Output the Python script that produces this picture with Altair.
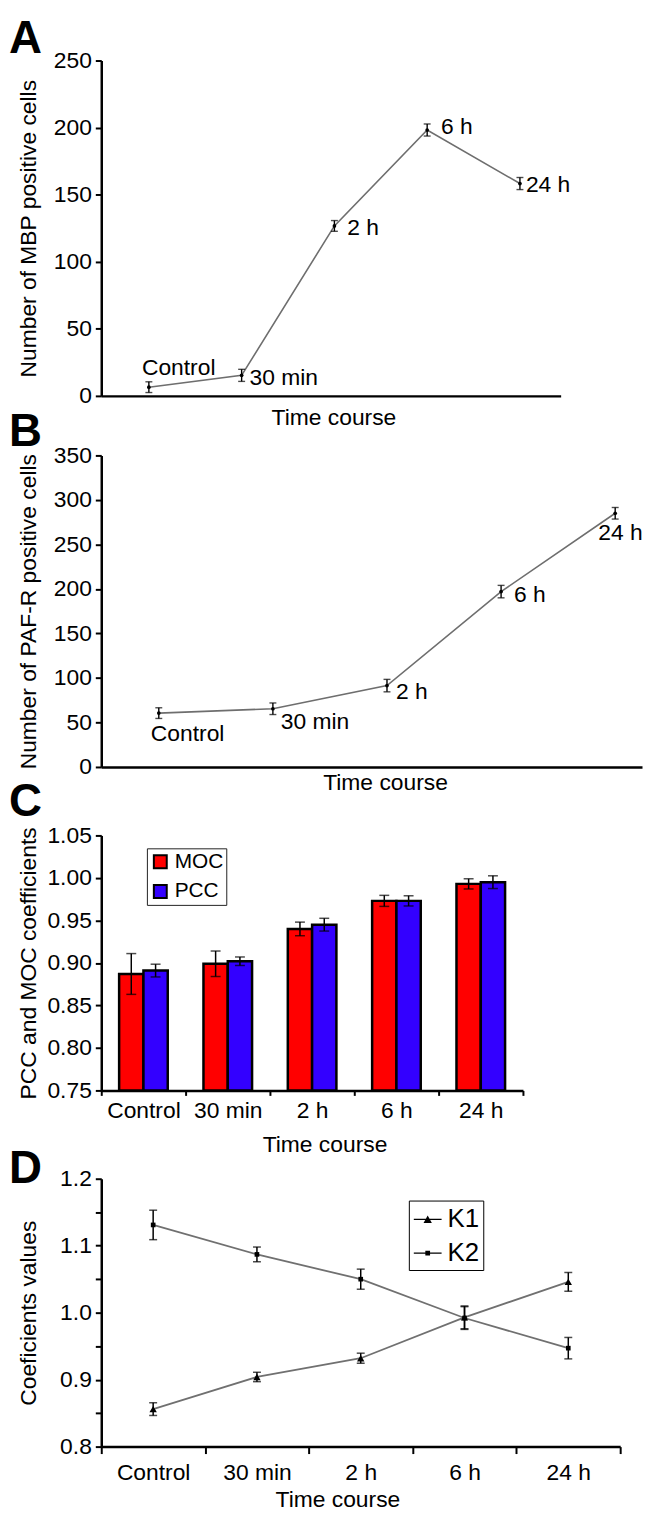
import altair as alt
import pandas as pd

# ---------------- data ----------------
CATS = ["Control", "30 min", "2 h", "6 h", "24 h"]

MBP_MEAN = [6.5, 15.3, 126.7, 198.2, 158.3]
MBP_ERR = [4.0, 4.5, 4.0, 4.5, 4.5]

PAFR_MEAN = [60.5, 65.4, 91.4, 197.0, 285.0]
PAFR_ERR = [6.0, 6.5, 7.0, 7.0, 6.5]

SERIES_C = ["MOC", "PCC"]
MOC_MEAN = [0.887, 0.899, 0.940, 0.973, 0.993]
MOC_ERR = [0.024, 0.015, 0.008, 0.0065, 0.006]
PCC_MEAN = [0.891, 0.902, 0.945, 0.973, 0.995]
PCC_ERR = [0.0075, 0.005, 0.0075, 0.006, 0.0075]

SERIES_D = ["K1", "K2"]
K1_MEAN = [0.856, 0.904, 0.932, 0.993, 1.046]
K1_ERR = [0.0095, 0.007, 0.0075, 0.017, 0.014]
K2_MEAN = [1.131, 1.087, 1.050, 0.992, 0.947]
K2_ERR = [0.022, 0.011, 0.015, 0.017, 0.016]

A_TICKS = [0, 50, 100, 150, 200, 250]
B_TICKS = [0, 50, 100, 150, 200, 250, 300, 350]
C_TICKS = [0.75, 0.80, 0.85, 0.90, 0.95, 1.00, 1.05]
D_TICKS = [0.8, 0.85, 0.9, 0.95, 1.0, 1.05, 1.1, 1.15, 1.2]

# label placement (pixel offsets from the point) for panels A and B
A_LABEL_OFFSETS = [(-7, -12), (8, 10), (13, 9), (14, 4), (6, 9)]
B_LABEL_OFFSETS = [(-8, 28), (8, 20), (9, 13), (13, 10), (-17, 27)]

FONT = "Liberation Sans"
FS = 23
LINE_GRAY = "#6e6e6e"


def frame(means, errs, series=None):
    d = pd.DataFrame({
        "time": CATS,
        "mean": means,
        "lo": [m - e for m, e in zip(means, errs)],
        "hi": [m + e for m, e in zip(means, errs)],
    })
    if series is not None:
        d["series"] = series
    return d


def letter_layer(letter, dy):
    return alt.Chart(pd.DataFrame({"t": [letter]})).mark_text(
        align="left", baseline="alphabetic", fontSize=46, fontWeight="bold",
        font=FONT, color="black"
    ).encode(text="t:N", x=alt.value(-93), y=alt.value(dy))


def y_axis(title, ticks, height, **kw):
    return alt.Axis(
        title=title, values=ticks, tickSize=6, labelPadding=4, grid=False,
        titleX=-66, titleY=height / 2, titleAngle=270, titleAlign="center",
        titleBaseline="alphabetic", labelOverlap=False, **kw
    )


def line_panel(df, width, height, pad, align, ticks, ytitle, tx, ty,
               offsets, letter, letter_dy):
    xs = alt.X("time:N", sort=CATS,
               scale=alt.Scale(type="point", padding=pad, align=align),
               axis=alt.Axis(title="Time course", labels=False, ticks=False,
                             titleX=tx, titleY=ty, titleAlign="center",
                             titleBaseline="alphabetic"))
    yax = y_axis(ytitle, ticks, height)

    def ys(field):
        return alt.Y(f"{field}:Q",
                     scale=alt.Scale(domain=[ticks[0], ticks[-1]], nice=False, zero=False),
                     axis=yax)

    base = alt.Chart(df)
    line = base.mark_line(color=LINE_GRAY, strokeWidth=1.6).encode(x=xs, y=ys("mean"))
    rule = base.mark_rule(color="black", strokeWidth=1.4).encode(x=xs, y=ys("lo"), y2="hi:Q")
    cap_lo = base.mark_tick(color="black", size=7, thickness=1.4).encode(x=xs, y=ys("lo"))
    cap_hi = base.mark_tick(color="black", size=7, thickness=1.4).encode(x=xs, y=ys("hi"))
    pts = base.mark_circle(color="black", size=14, opacity=1).encode(x=xs, y=ys("mean"))
    labels = []
    for i, (dx, dy) in enumerate(offsets):
        labels.append(
            alt.Chart(df.iloc[[i]]).mark_text(
                align="left", baseline="alphabetic", dx=dx, dy=dy,
                fontSize=FS, font=FONT, color="black"
            ).encode(x=xs, y=ys("mean"), text="time:N")
        )
    return alt.layer(line, rule, cap_lo, cap_hi, pts, *labels,
                     letter_layer(letter, letter_dy)).properties(width=width, height=height)


# ---------------- panel A ----------------
a_df = frame(MBP_MEAN, MBP_ERR)
panel_a = line_panel(a_df, 463, 338, 0.476, 0.539, A_TICKS,
                     "Number of MBP positive cells", 234, 29,
                     A_LABEL_OFFSETS, "A", -8)

# ---------------- panel B ----------------
b_df = frame(PAFR_MEAN, PAFR_ERR)
panel_b = line_panel(b_df, 545, 314, 0.3696, 0.682, B_TICKS,
                     "Number of PAF-R positive cells", 286, 23,
                     B_LABEL_OFFSETS, "B", -9)

# ---------------- panel C ----------------
c_df = pd.concat([frame(MOC_MEAN, MOC_ERR, "MOC"), frame(PCC_MEAN, PCC_ERR, "PCC")],
                 ignore_index=True)
C_W, C_H = 425, 257
xc = alt.X("time:N", sort=CATS,
           scale=alt.Scale(type="band", paddingInner=0, paddingOuter=0),
           axis=alt.Axis(title="Time course", tickBand="extent", tickSize=5, labelAngle=0,
                         labelBaseline="alphabetic", labelPadding=22,
                         titleX=225, titleY=62, titleAlign="center",
                         titleBaseline="alphabetic"))
xoc = alt.XOffset("series:N", sort=SERIES_C,
                  scale=alt.Scale(paddingInner=0, paddingOuter=0.735))
yc_axis = y_axis("PCC and MOC coefficients", C_TICKS, C_H, format=".2f")


def yc(field):
    return alt.Y(f"{field}:Q", scale=alt.Scale(domain=[0.75, 1.05], nice=False, zero=False),
                 axis=yc_axis)


cbase = alt.Chart(c_df)
bars = cbase.mark_bar(stroke="black", strokeWidth=2.5).encode(
    x=xc, xOffset=xoc, y=yc("mean"), y2=alt.datum(0.75),
    color=alt.Color("series:N", sort=SERIES_C,
                    scale=alt.Scale(domain=SERIES_C, range=["#ff0000", "#3300ff"]),
                    legend=alt.Legend(title=None, orient="none", legendX=46, legendY=13,
                                      direction="vertical", symbolType="square",
                                      symbolSize=169, symbolStrokeColor="black",
                                      symbolStrokeWidth=2, labelFontSize=21,
                                      labelFont=FONT, labelColor="black",
                                      labelOffset=4, rowPadding=8, padding=3,
                                      strokeColor="#222222", fillColor="white")))
c_rule = cbase.mark_rule(color="black", strokeWidth=1.5).encode(
    x=xc, xOffset=xoc, y=yc("lo"), y2="hi:Q")
c_cap_lo = cbase.mark_tick(color="black", size=10, thickness=1.5).encode(
    x=xc, xOffset=xoc, y=yc("lo"))
c_cap_hi = cbase.mark_tick(color="black", size=10, thickness=1.5).encode(
    x=xc, xOffset=xoc, y=yc("hi"))
panel_c = alt.layer(bars, c_rule, c_cap_lo, c_cap_hi,
                    letter_layer("C", -20)).properties(width=C_W, height=C_H)

# ---------------- panel D ----------------
d_df = pd.concat([frame(K1_MEAN, K1_ERR, "K1"), frame(K2_MEAN, K2_ERR, "K2")],
                 ignore_index=True)
D_W, D_H = 523, 270
xd = alt.X("time:N", sort=CATS,
           scale=alt.Scale(type="band", paddingInner=0, paddingOuter=0),
           axis=alt.Axis(title="Time course", tickBand="extent", tickSize=7, labelAngle=0,
                         labelBaseline="alphabetic", labelPadding=26,
                         titleX=238, titleY=60, titleAlign="center",
                         titleBaseline="alphabetic"))
yd_axis = y_axis("Coeficients values", D_TICKS, D_H,
                 labelExpr="abs(datum.value*10 - round(datum.value*10)) < 0.01 ? format(datum.value, '.1f') : ''")


def yd(field):
    return alt.Y(f"{field}:Q", scale=alt.Scale(domain=[0.8, 1.2], nice=False, zero=False),
                 axis=yd_axis)


dbase = alt.Chart(d_df)
d_line = dbase.mark_line(color="#707070", strokeWidth=1.8).encode(
    x=xd, y=yd("mean"), detail="series:N")
d_rule = dbase.mark_rule(color="black", strokeWidth=1.5).encode(x=xd, y=yd("lo"), y2="hi:Q")
d_cap_lo = dbase.mark_tick(color="black", size=8, thickness=1.5).encode(x=xd, y=yd("lo"))
d_cap_hi = dbase.mark_tick(color="black", size=8, thickness=1.5).encode(x=xd, y=yd("hi"))
d_pts = dbase.mark_point(filled=True, color="black", opacity=1).encode(
    x=xd, y=yd("mean"),
    shape=alt.Shape("series:N", scale=alt.Scale(domain=SERIES_D, range=["triangle-up", "square"]),
                    legend=None),
    size=alt.Size("series:N", scale=alt.Scale(domain=SERIES_D, range=[55, 22]), legend=None))
# legend glyphs: a short line with the series marker on it (all filled)
K1_SYMBOL = "M-1,-0.05H1V0.05H-1Z M-0.3,0.26L0,-0.28L0.3,0.26Z"
K2_SYMBOL = "M-1,-0.05H1V0.05H-1Z M-0.17,-0.17H0.17V0.17H-0.17Z"
d_leg = dbase.transform_filter("false").mark_point(
    filled=True, color="black", opacity=1, size=784
).encode(
    x=xd, y=yd("mean"),
    shape=alt.Shape("series:N",
                    scale=alt.Scale(domain=SERIES_D, range=[K1_SYMBOL, K2_SYMBOL]),
                    legend=alt.Legend(title=None, orient="none", legendX=310, legendY=22,
                                      direction="vertical", symbolSize=784,
                                      symbolFillColor="black", symbolOpacity=1,
                                      labelFontSize=26, labelFont=FONT, labelColor="black",
                                      labelOffset=5, rowPadding=6, padding=4,
                                      strokeColor="black", fillColor="white")))
panel_d = alt.layer(d_line, d_rule, d_cap_lo, d_cap_hi, d_pts, d_leg,
                    letter_layer("D", 4)).resolve_scale(
    shape="independent", size="independent").properties(width=D_W, height=D_H)


def spacer(h):
    return alt.Chart(pd.DataFrame({"s": [0]})).mark_point(opacity=0).properties(width=1, height=h)


chart = alt.vconcat(
    panel_a, spacer(60), panel_b, spacer(69), panel_c, spacer(89), panel_d,
    spacing=0, bounds="flush"
).resolve_scale(
    color="independent", shape="independent", size="independent"
).properties(
    padding={"left": 1, "top": 2, "right": 0, "bottom": 0},
    background="white"
).configure_view(stroke=None).configure_axis(
    labelFont=FONT, labelFontSize=FS, labelColor="black",
    titleFont=FONT, titleFontSize=FS, titleFontWeight="normal", titleColor="black",
    domainColor="black", domainWidth=2.5, tickColor="black", tickWidth=2
)

chart.save("out.html", embed_options={"renderer": "svg", "actions": False})
